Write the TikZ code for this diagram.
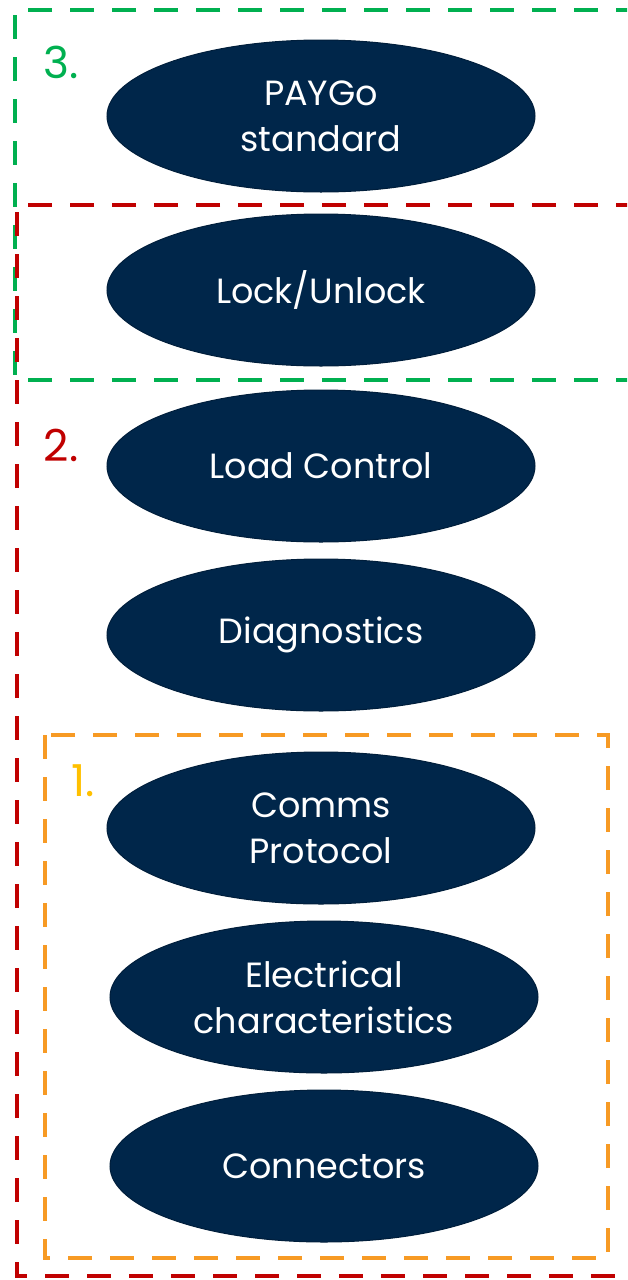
\documentclass[tikz,border=0pt]{standalone}
\usepackage{fontspec}
\setmainfont{Poppins}
\usetikzlibrary{shapes.geometric}
\definecolor{navy}{RGB}{0,38,74}
\definecolor{boxgreen}{RGB}{0,176,80}
\definecolor{boxred}{RGB}{192,0,0}
\definecolor{boxorange}{RGB}{247,154,36}
\definecolor{numyellow}{RGB}{255,192,0}
\tikzset{
  feature/.style={ellipse, fill=navy, draw=navy!80!black, line width=1pt,
    minimum width=428pt, minimum height=152pt, text=white, align=center,
    font=\fontsize{35}{46}\selectfont},
  layer/.style={line width=4.5pt, dash pattern=on 24pt off 18pt},
  levelnum/.style={font=\fontsize{44}{44}\selectfont}
}

\begin{document}
\begin{tikzpicture}[x=1pt,y=-1pt]
    \clip (0,0) rectangle (627,1280);
    \node[feature] (paygo) at (321,116) {PAYGo\\standard};
    \node[feature] (lock) at (321,290) {Lock/Unlock};
    \node[feature] (load) at (321,466) {Load Control};
    \node[feature] (diag) at (321,635) {Diagnostics};
    \node[feature] (comms) at (321,828) {Comms\\Protocol};
    \node[feature] (elec) at (324,997) {Electrical\\characteristics};
    \node[feature] (conn) at (324,1166) {Connectors};
    % layer boxes
    \draw[layer, boxgreen] (640,10) -- (15,10) -- (15,380) -- (640,380);
    \draw[layer, boxred] (640,205) -- (17,205) -- (17,1276) -- (640,1276);
    \draw[layer, boxorange] (45,735) rectangle (608,1258);
    \node[levelnum, text=boxgreen] (n3) at (61,62) {3.};
    \node[levelnum, text=boxred] (n2) at (61,445) {2.};
    \node[levelnum, text=numyellow] (n1) at (83,781) {1.};
  \end{tikzpicture}
\end{document}
